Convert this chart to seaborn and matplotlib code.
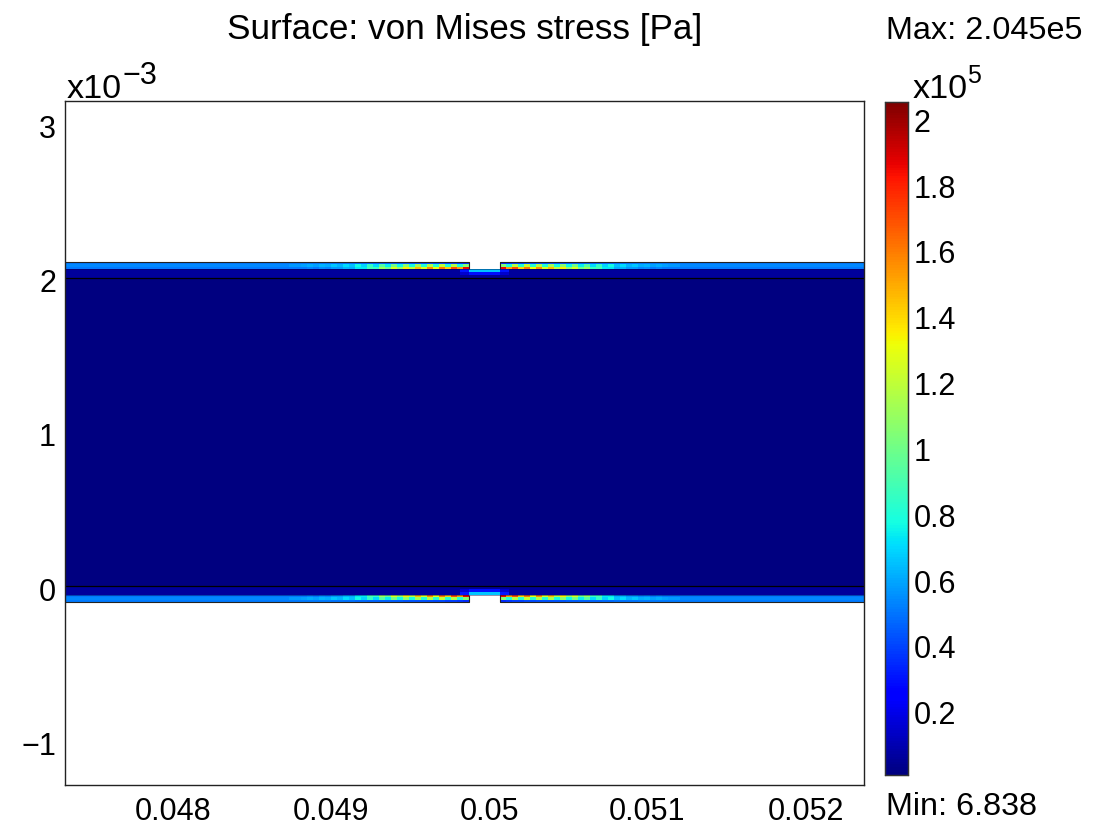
import numpy as np
import matplotlib
matplotlib.use("Agg")
import matplotlib.pyplot as plt
from matplotlib.transforms import ScaledTranslation
import seaborn as sns

sns.set_theme(style="white")
plt.rcParams["font.family"] = ["Liberation Sans", "DejaVu Sans"]

# ---- values ----
x_ticks = [0.048, 0.049, 0.05, 0.051, 0.052]
x_tick_labels = ["0.048", "0.049", "0.05", "0.051", "0.052"]
y_ticks = [3, 2, 1, 0, -1]                 # x 1e-3
y_tick_labels = ["3", "2", "1", "0", "\u22121"]
cbar_ticks = [0.2, 0.4, 0.6, 0.8, 1.0, 1.2, 1.4, 1.6, 1.8, 2.0]   # x 1e5
cbar_tick_labels = ["0.2", "0.4", "0.6", "0.8", "1", "1.2", "1.4", "1.6", "1.8", "2"]
stress_min = 6.838
stress_max = 2.045e5

# von Mises stress (x 1e5 Pa) in the thin film, left of the slit, outer to inner face
film_far = [0.50, 0.53, 0.50]
film_outer = [.50, .50, .50, .50, .50, .50, .50, .49, .49, .48, .48, .47, .47, .46, .46,
              .45, .45, .44, .44, .43, .43, .42, .42, .41, .40, .40, .38, .38, .36, .34]
film_middle = [.56, .56, .58, .60, .58, .62, .60, .66, .62, .70, .64, .76, .68, .84, .70,
               .92, .74, 1.00, .76, 1.06, .78, 1.12, .80, 1.16, .82, 1.20, .82, 1.16, .80, 1.05]
film_inner = [.50, .50, .50, .52, .50, .54, .52, .56, .56, .62, .60, .72, .72, .88, .85,
              1.10, .98, 1.25, 1.08, 1.35, 1.18, 1.45, 1.25, 1.55, 1.30, 1.60, 1.40, 1.70, 1.50, 1.85]
# stress in the layer under the slit: bands outward from the slit, rows from the slit downward
slit_row_values = [[0.65, 0.30], [0.28, 0.14]]
layer_value = 0.05
core_value = 0.0

# geometry in metres
x_min, x_max = 0.047345, 0.052402
y_min, y_max = -1.292e-3, 3.149e-3
core_bottom, core_top = 0.0, 2.0e-3
film_gap = 0.058e-3
film_thick = 0.104e-3
slit_half = 0.098e-3
slit_fringe = 0.16e-3
film_block = 0.038e-3
n_cols, n_rows = 800, 684

# ---- field on a uniform grid, top row first ----
dx = (x_max - x_min) / n_cols
dy = (y_max - y_min) / n_rows
col = lambda x: (x - x_min) / dx
row = lambda y: (y_max - y) / dy
xc = x_min + (np.arange(n_cols) + .5) * dx
yc = y_max - (np.arange(n_rows) + .5) * dy
field = np.full((n_rows, n_cols), np.nan)
field[(yc >= core_bottom) & (yc <= core_top), :] = core_value

dist = np.abs(xc - 0.05)                  # distance from slit centre
blocks = np.array([film_outer, film_middle, film_inner])
n_b = blocks.shape[1]

for side in (1, -1):                      # +1 upper film, -1 lower film
    ref = core_top if side == 1 else core_bottom
    h = side * (yc - ref)                 # height above the core surface
    layer = (h > 0) & (h <= film_gap)
    field[layer, :] = layer_value
    sublayers = [(film_gap + .72 * (film_thick - film_gap), film_thick),
                 (film_gap + .28 * (film_thick - film_gap), film_gap + .72 * (film_thick - film_gap)),
                 (film_gap, film_gap + .28 * (film_thick - film_gap))]
    for k, (lo, hi) in enumerate(sublayers):
        rows = (h > lo) & (h <= hi)
        idx = ((dist - slit_half) / film_block).astype(int)
        vals = np.where(idx < n_b, blocks[k][np.clip(n_b - 1 - idx, 0, n_b - 1)], film_far[k])
        vals = np.where(dist < slit_half, np.nan, vals)
        field[np.ix_(rows, np.arange(n_cols))] = vals
    for k, rowvals in enumerate(slit_row_values):
        lo = film_gap * (1 - (k + 1) / 3)
        hi = film_gap * (1 - k / 3)
        rows = np.where((h > lo) & (h <= hi))[0]
        for r in rows:
            field[r, dist <= slit_fringe] = rowvals[1]
            field[r, dist <= slit_half] = rowvals[0]

# ---- figure ----
W, H = 1101, 826
fig = plt.figure(figsize=(W / 100, H / 100), dpi=100)
ax = fig.add_axes([65 / W, 1 - 785 / H, 799 / W, 684 / H])
cax = fig.add_axes([885 / W, 1 - 775 / H, 23 / W, 673 / H])

sns.heatmap(field, ax=ax, cbar_ax=cax, cmap="jet",
            vmin=stress_min / 1e5, vmax=stress_max / 1e5,
            xticklabels=False, yticklabels=False, cbar_kws={"ticks": cbar_ticks})

ax.set_xticks([col(v) for v in x_ticks], x_tick_labels, rotation=0)
ax.set_yticks([row(v * 1e-3) for v in y_ticks], y_tick_labels, rotation=0, va="center")
ax.tick_params(length=0, labelsize=22, colors="black")
ax.tick_params(axis="x", pad=9)
ax.tick_params(axis="y", pad=6.5)
for lab in ax.get_xticklabels():
    lab.set_transform(lab.get_transform() + ScaledTranslation(.05, 0, fig.dpi_scale_trans))
for lab in ax.get_yticklabels():
    lab.set_transform(lab.get_transform() + ScaledTranslation(0, -.065, fig.dpi_scale_trans))
for s in ax.spines.values():
    s.set_visible(True)
    s.set_color("#222222")
    s.set_linewidth(1.0)

# domain outlines
line = dict(color="black", lw=0.9, solid_capstyle="butt")
film_line = dict(color="#222222", lw=0.8, solid_capstyle="butt")
for yy in (core_top, core_bottom):
    ax.plot([0, n_cols], [row(yy)] * 2, **line)
for side, ref in ((1, core_top), (-1, core_bottom)):
    y0, y1 = row(ref + side * film_gap), row(ref + side * film_thick)
    xl, xr = col(0.05 - slit_half), col(0.05 + slit_half)
    ax.plot([0, xl, xl], [y1, y1, y0], **film_line)
    ax.plot([n_cols, xr, xr], [y1, y1, y0], **film_line)
    ax.plot([0, n_cols], [y0, y0], color="#000044", lw=0.6, alpha=0.5)

# colour bar
cax.set_yticks(cbar_ticks, cbar_tick_labels)
cax.tick_params(axis="y", left=True, right=True, labelleft=False, labelright=True,
                direction="in", length=3, width=0.8, color="black", labelcolor="black",
                labelsize=22, pad=4)
for lab in cax.get_yticklabels():
    lab.set_transform(lab.get_transform() + ScaledTranslation(0, -.035, fig.dpi_scale_trans))
for s in cax.spines.values():
    s.set_visible(True)
    s.set_color("#333333")
    s.set_linewidth(0.9)

# annotation text
def label(px, py, txt, size=22, **kw):
    fig.text(px / W, 1 - py / H, txt, fontsize=size, color="black", va="center", **kw)

ax.set_title("Surface: von Mises stress [Pa]", fontsize=25.3, color="black", pad=45)
label(886, 31, "Max: 2.045e5", size=23.3)
label(886, 807, "Min: 6.838", size=23.3)
label(67, 89, "x10", size=24.6)
label(122, 76, "\u22123")
label(913, 89, "x10", size=24.6)
label(967, 76, "5", size=18)

fig.savefig("out.png", dpi=100)
